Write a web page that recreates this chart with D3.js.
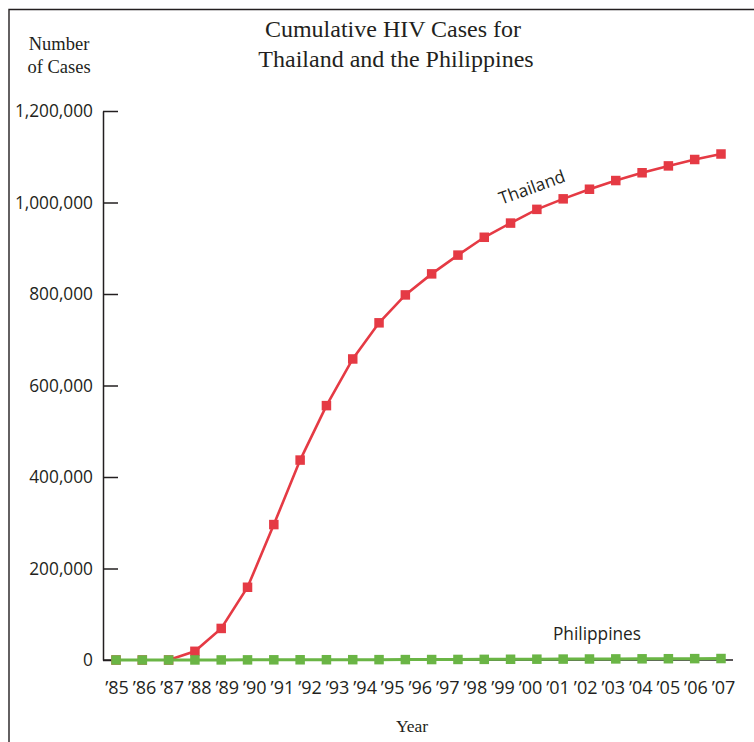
<!DOCTYPE html>
<html><head><meta charset="utf-8">
<script src="https://cdn.jsdelivr.net/npm/d3@7"></script>
<style>
html,body{margin:0;padding:0;background:#fff;}
svg{display:block;}
</style></head>
<body>
<script>
// ---- data ----
const yearLabels = ["’85","’86","’87","’88","’89","’90","’91","’92","’93","’94","’95","’96","’97","’98","’99","’00","’01","’02","’03","’04","’05","’06","’07"];
const pointIndex = [0,1,2,3,4,5,6,7,8,9,10,11,12,13,14,15,16,17,18,19,20,21,22,23];
const thailand = [0,0,0,19000,69000,159000,296000,437000,556000,658000,737000,798000,844000,885000,924000,955000,985000,1008000,1029000,1048000,1065000,1080000,1094000,1106000];
const philippines = [0,0,0,100,200,300,400,500,600,700,800,900,1000,1200,1400,1600,1800,2000,2200,2400,2600,2800,3000,3200];
const yTicks = [0,200000,400000,600000,800000,1000000,1200000];
const seriesNames = ["Thailand","Philippines"];

const W = 754, H = 742;
const ink = "#231f20";
const red = "#e53a44", green = "#6ab545";

const svg = d3.select("body").append("svg").attr("width", W).attr("height", H);

// frame
svg.append("path").attr("d", `M9,${H} L9,9.5 L${W},9.5`).attr("fill","none").attr("stroke", ink).attr("stroke-width",1.4);

const x = d3.scaleLinear().domain([0, 23]).range([116, 721]);
const xl = d3.scalePoint().domain(yearLabels).range([116.5, 723]);
const y = d3.scaleLinear().domain([0, 1200000]).range([660, 111]);
const axisX = 103;

// y axis
const gy = svg.append("g").attr("transform", `translate(${axisX},0)`)
  .call(d3.axisLeft(y).tickValues(yTicks).tickSizeInner(-15).tickSizeOuter(0).tickPadding(10)
        .tickFormat(d3.format(",")));
gy.selectAll("path,line").attr("stroke", ink).attr("stroke-width",1.5);
gy.selectAll("text").attr("font-family","'Open Sans', sans-serif").attr("font-size",17.3).attr("fill",ink);

// x baseline
svg.append("line").attr("x1",axisX).attr("x2",x(23)+12).attr("y1",y(0)).attr("y2",y(0))
  .attr("stroke",ink).attr("stroke-width",1.5);

// x labels
const gx = svg.append("g").attr("transform", `translate(0,${y(0)})`)
  .call(d3.axisBottom(xl).tickSize(0).tickPadding(21));
gx.select(".domain").remove();
gx.selectAll("text").attr("font-family","'Open Sans', sans-serif").attr("font-size",18).attr("fill",ink);

// lines
const ms = 9.5;
function drawSeries(vals, col, startIdx, sw){
  svg.append("path").datum(vals.slice(startIdx)).attr("d", d3.line().x((d,i)=>x(pointIndex[i+startIdx])).y(d=>y(d)))
    .attr("fill","none").attr("stroke",col).attr("stroke-width",sw);
  svg.append("g").selectAll("rect").data(vals).join("rect")
    .attr("x",(d,i)=>x(pointIndex[i])-ms/2).attr("y",d=>y(d)-ms/2)
    .attr("width",ms).attr("height",ms).attr("fill",col);
}
drawSeries(thailand, red, 2, 2.6);
drawSeries(philippines, green, 0, 3);

// series labels
svg.append("text").attr("transform","translate(534,193) rotate(-20)")
  .attr("text-anchor","middle").attr("font-family","'Open Sans', sans-serif").attr("font-size",17.3)
  .attr("fill",ink).text(seriesNames[0]);
svg.append("text").attr("x",597).attr("y",640)
  .attr("text-anchor","middle").attr("font-family","'Open Sans', sans-serif").attr("font-size",17.3)
  .attr("fill",ink).text(seriesNames[1]);

// titles
const serif = "'Liberation Serif', serif";
svg.append("text").attr("x",393).attr("y",37).attr("text-anchor","middle").attr("font-family",serif)
  .attr("font-size",24).attr("fill",ink).text("Cumulative HIV Cases for");
svg.append("text").attr("x",396).attr("y",67).attr("text-anchor","middle").attr("font-family",serif)
  .attr("font-size",24).attr("fill",ink).text("Thailand and the Philippines");
svg.append("text").attr("x",59).attr("y",50).attr("text-anchor","middle").attr("font-family",serif)
  .attr("font-size",18.5).attr("fill",ink).text("Number");
svg.append("text").attr("x",59).attr("y",73).attr("text-anchor","middle").attr("font-family",serif)
  .attr("font-size",18.5).attr("fill",ink).text("of Cases");
svg.append("text").attr("x",412).attr("y",732).attr("text-anchor","middle").attr("font-family",serif)
  .attr("font-size",17.5).attr("fill",ink).text("Year");
</script>
</body></html>
